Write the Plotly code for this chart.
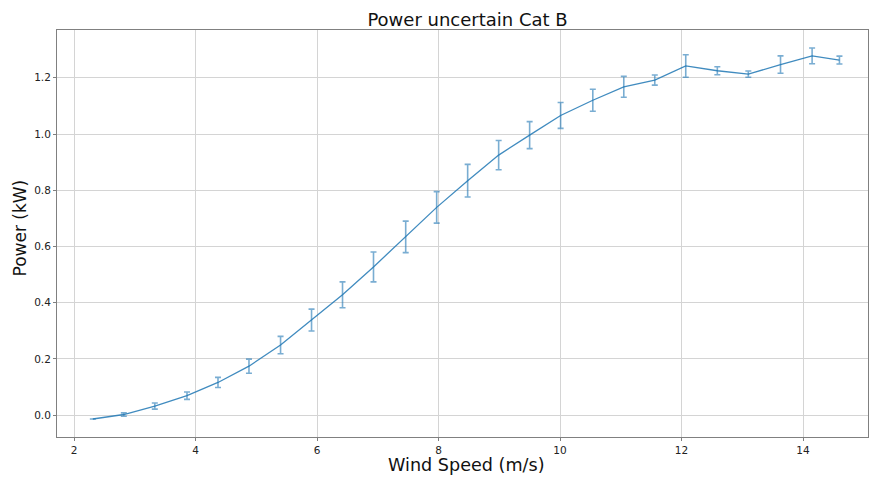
import plotly.graph_objects as go

wind_speed = [2.31, 2.82, 3.33, 3.86, 4.37, 4.88, 5.40, 5.91, 6.42, 6.93, 7.46, 7.97,
              8.48, 8.99, 9.50, 10.01, 10.54, 11.05, 11.56, 12.07, 12.59, 13.10, 13.63,
              14.15, 14.60]
power = [-0.014, 0.002, 0.032, 0.069, 0.116, 0.174, 0.249, 0.338, 0.428, 0.527, 0.634,
         0.739, 0.834, 0.925, 0.996, 1.066, 1.120, 1.168, 1.192, 1.242, 1.225, 1.213,
         1.247, 1.278, 1.263]
power_err = [0.0, 0.006, 0.011, 0.013, 0.018, 0.025, 0.031, 0.039, 0.046, 0.053, 0.056,
             0.056, 0.058, 0.052, 0.048, 0.046, 0.039, 0.037, 0.018, 0.040, 0.014, 0.011,
             0.031, 0.028, 0.014]

x_ticks = [2, 4, 6, 8, 10, 12, 14]
y_ticks = [0.0, 0.2, 0.4, 0.6, 0.8, 1.0, 1.2]
y_tick_labels = ["0.0", "0.2", "0.4", "0.6", "0.8", "1.0", "1.2"]

FONT = "DejaVu Sans, sans-serif"

fig = go.Figure()
fig.add_trace(go.Scatter(
    x=wind_speed, y=power, mode="lines",
    line=dict(color="rgba(31,119,180,0.85)", width=1.3),
    error_y=dict(type="data", array=power_err, visible=True,
                 color="rgba(31,119,180,0.6)", thickness=1.6, width=3),
    showlegend=False,
))

axis_common = dict(
    showgrid=True, gridcolor="#d4d4d4", gridwidth=1,
    showline=True, linecolor="#808080", linewidth=1, mirror=True,
    ticks="outside", ticklen=3, tickcolor="#808080",
    tickfont=dict(family=FONT, size=10.5, color="#222"),
    zeroline=False,
)

fig.update_layout(
    width=869, height=479,
    margin=dict(l=57, r=1, t=30, b=42),
    paper_bgcolor="white", plot_bgcolor="white",
    title=dict(text="Power uncertain Cat B", x=0.538, xanchor="center",
               y=0.958, yanchor="middle",
               font=dict(family=FONT, size=18, color="#111")),
    xaxis=dict(range=[1.72, 15.07], tickvals=x_ticks, **axis_common),
    yaxis=dict(range=[-0.078, 1.370], tickvals=y_ticks, ticktext=y_tick_labels,
               **axis_common),
    annotations=[
        dict(text="Wind Speed (m/s)", xref="paper", yref="paper",
             x=0.5055, y=-0.069, xanchor="center", yanchor="middle",
             showarrow=False, font=dict(family=FONT, size=17.6, color="#111")),
        dict(text="Power (kW)", xref="paper", yref="paper",
             x=-0.0456, y=0.5123, xanchor="center", yanchor="middle",
             textangle=-90, showarrow=False,
             font=dict(family=FONT, size=17, color="#111")),
    ],
)

fig.write_html("out.html")
